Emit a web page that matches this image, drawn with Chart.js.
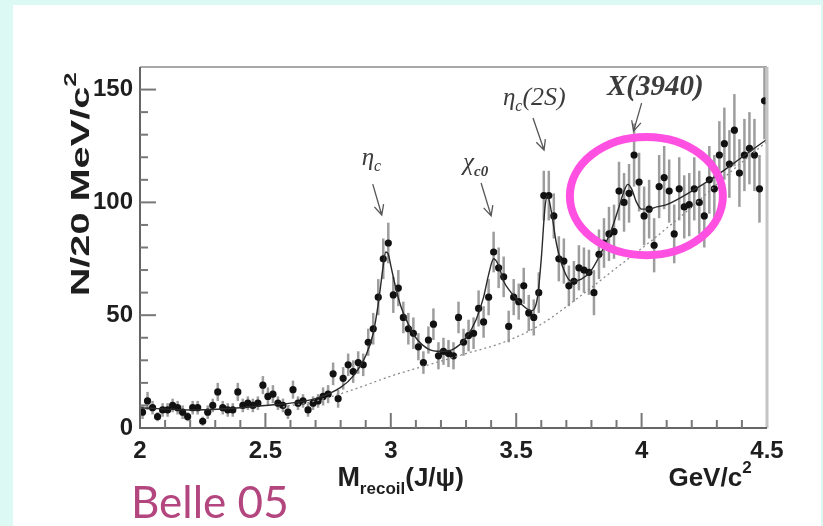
<!DOCTYPE html>
<html>
<head>
<meta charset="utf-8">
<title>Belle 05 - mass recoiling against J/psi</title>
<script src="https://cdn.jsdelivr.net/npm/chart.js@4.4.0/dist/chart.umd.min.js"></script>
<style>
  html, body { margin: 0; padding: 0; background: #dcfaf3; }
  #wrap { position: relative; width: 823px; height: 526px; overflow: hidden; }
  #panel { position: absolute; left: 13px; top: 5px; width: 808px; height: 521px; background: #fff; }
  #chart { position: absolute; left: 0; top: 0; }
</style>
</head>
<body>
<div id="wrap">
  <div id="panel"></div>
  <canvas id="chart" width="823" height="526"></canvas>
</div>
<script>
// histogram of M_recoil(J/psi), 20 MeV bins starting at 2.00 GeV
const binStart = 2.0;
const binWidth = 0.02;

const counts = [
  7, 12, 9, 5, 8, 8, 10, 9, 7, 5,
  9, 9, 3, 7, 10, 16, 9, 8, 8, 16,
  10, 11, 10, 11, 19, 14, 15, 11, 10, 7,
  17, 11, 12, 8, 11, 12, 14, 15, 24, 13,
  22, 28, 25, 29, 28, 38, 44, 58, 75, 82,
  59, 62, 49, 44, 42, 36, 29, 39, 46, 32,
  34, 33, 32, 49, 38, 41, 42, 53, 47, 58,
  78, 71, 67, 45, 58, 56, 63, 51, 49, 60,
  103, 103, 94, 75, 74, 63, 65, 71, 70, 69,
  60, 77, 82, 86, 87, 105, 100, 104, 121, 109,
  94, 97, 81, 107, 111, 105, 86, 106, 98, 99,
  106, 100, 94, 110, 106, 121, 126, 117, 132, 113,
  121, 124, 121, 106, 145
];

const countErrors = [
  3, 4, 3, 2, 3, 3, 3, 3, 3, 2,
  3, 3, 2, 3, 3, 4, 3, 3, 3, 4,
  3, 3, 3, 3, 4, 4, 4, 3, 3, 3,
  4, 3, 3, 3, 3, 3, 4, 4, 5, 4,
  5, 5, 5, 5, 5, 6, 7, 8, 9, 9,
  8, 8, 7, 7, 7, 6, 5, 6, 7, 6,
  6, 6, 6, 7, 6, 7, 7, 8, 7, 8,
  9, 9, 9, 7, 8, 8, 8, 8, 8, 9,
  11, 11, 10, 10, 10, 9, 9, 10, 10, 10,
  10, 11, 11, 12, 12, 13, 13, 13, 14, 13,
  13, 13, 12, 14, 14, 14, 13, 14, 14, 14,
  14, 14, 14, 15, 15, 15, 16, 15, 16, 15,
  16, 16, 16, 15, 17
];

// fitted curve (signal + background)
const fitMass = [2.0, 2.2, 2.4, 2.5, 2.6, 2.7, 2.8, 2.85, 2.9, 2.93, 2.95, 2.97, 2.98, 2.99, 3.0,
  3.02, 3.04, 3.07, 3.1, 3.15, 3.2, 3.25, 3.3, 3.34, 3.37, 3.39, 3.41, 3.43, 3.45, 3.48,
  3.52, 3.56, 3.585, 3.6, 3.615, 3.625, 3.64, 3.66, 3.69, 3.72, 3.76, 3.8, 3.84, 3.88, 3.91,
  3.93, 3.945, 3.96, 3.98, 4.0, 4.03, 4.06, 4.1, 4.2, 4.3, 4.4, 4.5];
const fitValues = [9, 8, 9, 10, 11, 13, 18, 23, 32, 42, 55, 72, 78, 77, 72,
  62, 54, 46, 40, 35, 34, 35, 40, 48, 58, 68, 75, 72, 65, 60,
  55, 52, 58, 75, 98, 103, 96, 82, 70, 65, 66, 70, 78, 88, 98,
  105, 108, 106, 100, 97, 97, 98, 99, 105, 112, 120, 128];

// background only (dotted)
const bkgMass = [2.55, 2.7, 2.85, 3.0, 3.15, 3.3, 3.45, 3.6, 3.75, 3.9, 4.05, 4.2, 4.35, 4.5];
const bkgValues = [9, 12, 17, 23, 28, 33, 38, 46, 58, 71, 84, 98, 113, 127];

const xTicks = [2, 2.5, 3, 3.5, 4, 4.5];
const yTicks = [0, 50, 100, 150];

const peakNames = ['η', 'χ', 'η', 'X(3940)'];
const peakSubs = ['c', 'c0', 'c', ''];
const peakTails = ['', '', '(2S)', ''];

const massBins = counts.map((_, i) => +(binStart + binWidth * (i + 0.5)).toFixed(3));

const SANS = '"Liberation Sans", Arial, sans-serif';
const SERIF = '"Liberation Serif", "Times New Roman", serif';

function drawParts(ctx, parts, x, y) {
    let cx = x;
    parts.forEach(p => {
        ctx.font = p.font;
        ctx.fillText(p.text, cx, y + (p.dy || 0));
        cx += ctx.measureText(p.text).width + (p.gap || 0);
    });
}

function drawArrow(ctx, x0, y0, x1, y1) {
    const a = Math.atan2(y1 - y0, x1 - x0);
    const h = 11;
    ctx.beginPath();
    ctx.moveTo(x0, y0);
    ctx.lineTo(x1, y1);
    ctx.moveTo(x1 - h * Math.cos(a - 0.45), y1 - h * Math.sin(a - 0.45));
    ctx.lineTo(x1, y1);
    ctx.lineTo(x1 - h * Math.cos(a + 0.45), y1 - h * Math.sin(a + 0.45));
    ctx.stroke();
}

const errorBars = {
    id: 'errorBars',
    beforeDatasetsDraw(chart) {
        const {ctx, chartArea, scales: {x, y}} = chart;
        ctx.save();
        ctx.beginPath();
        ctx.rect(chartArea.left, chartArea.top, chartArea.right - chartArea.left, chartArea.bottom - chartArea.top);
        ctx.clip();
        ctx.strokeStyle = 'rgba(60,60,60,0.5)';
        ctx.lineWidth = 2.5;
        counts.forEach((n, i) => {
            const px = x.getPixelForValue(massBins[i]);
            ctx.beginPath();
            ctx.moveTo(px, y.getPixelForValue(n - countErrors[i]));
            ctx.lineTo(px, y.getPixelForValue(n + countErrors[i]));
            ctx.stroke();
        });
        ctx.restore();
    }
};

const frameAndLabels = {
    id: 'frameAndLabels',
    afterDraw(chart) {
        const {ctx, chartArea: a, scales: {x, y}} = chart;
        ctx.save();

        // frame
        ctx.lineWidth = 2;
        ctx.strokeStyle = '#a8a8a8';
        ctx.beginPath();
        ctx.moveTo(a.left, a.top);
        ctx.lineTo(a.right, a.top);
        ctx.stroke();
        ctx.lineWidth = 3;
        ctx.strokeStyle = '#c4c4c4';
        ctx.beginPath();
        ctx.moveTo(a.right, a.top);
        ctx.lineTo(a.right, a.bottom);
        ctx.stroke();
        ctx.lineWidth = 2;
        ctx.strokeStyle = '#666';
        ctx.beginPath();
        ctx.moveTo(a.left, a.top);
        ctx.lineTo(a.left, a.bottom);
        ctx.lineTo(a.right, a.bottom);
        ctx.stroke();

        // inward ticks
        ctx.strokeStyle = '#777';
        ctx.lineWidth = 2;
        for (let k = 1; k < 25; k++) {
            const px = x.getPixelForValue(2 + k * 0.1);
            const len = k % 5 === 0 ? 15 : 8;
            ctx.beginPath();
            ctx.moveTo(px, a.bottom);
            ctx.lineTo(px, a.bottom - len);
            ctx.stroke();
        }
        for (let k = 1; k < 16; k++) {
            const py = y.getPixelForValue(k * 10);
            const len = k % 5 === 0 ? 16 : 8;
            ctx.beginPath();
            ctx.moveTo(a.left, py);
            ctx.lineTo(a.left + len, py);
            ctx.stroke();
        }

        // peak labels and arrows
        ctx.fillStyle = '#3c3c3c';
        ctx.strokeStyle = '#555';
        ctx.lineWidth = 1.3;
        ctx.textBaseline = 'alphabetic';
        const it = s => 'italic ' + s + 'px ' + SERIF;
        const bit = s => 'italic bold ' + s + 'px ' + SERIF;
        const labelPos = [[2.884, 116.6], [3.288, 114.4], [3.447, 143.2], [3.862, 147.6]];
        const arrows = [[2.928, 108.1, 2.964, 94.4], [3.36, 108.6, 3.40, 94.0],
                        [3.567, 137.4, 3.611, 123.2], [4.0, 144, 3.968, 131.6]];
        peakNames.forEach((name, i) => {
            const parts = [{text: name, font: i === 3 ? bit(29) : it(25)}];
            if (peakSubs[i]) parts.push({text: peakSubs[i], font: (i === 1 ? bit(15) : it(16)), dy: 6});
            if (peakTails[i]) parts.push({text: peakTails[i], font: it(26)});
            drawParts(ctx, parts, x.getPixelForValue(labelPos[i][0]), y.getPixelForValue(labelPos[i][1]));
            const r = arrows[i];
            drawArrow(ctx, x.getPixelForValue(r[0]), y.getPixelForValue(r[1]),
                      x.getPixelForValue(r[2]), y.getPixelForValue(r[3]));
        });

        // highlight ellipse round X(3940)
        const ex = x.getPixelForValue(4.019), ey = y.getPixelForValue(102.8);
        const erx = x.getPixelForValue(4.019 + 0.305) - ex;
        const ery = ey - y.getPixelForValue(102.8 + 26.2);
        ctx.strokeStyle = '#ff50e2';
        ctx.lineWidth = 8;
        ctx.beginPath();
        ctx.ellipse(ex, ey, erx, ery, 0, 0, Math.PI * 2);
        ctx.stroke();

        // axis titles
        ctx.fillStyle = '#1e1e1e';
        ctx.save();
        ctx.translate(a.left - 60, y.getPixelForValue(108));
        ctx.rotate(-Math.PI / 2);
        ctx.font = 'bold 26px ' + SANS;
        const t1 = 'N/20 MeV/c';
        const w1 = ctx.measureText(t1).width;
        ctx.font = 'bold 17px ' + SANS;
        const w2 = ctx.measureText('2').width;
        const total = w1 + w2;
        ctx.scale(224 / total, 1);
        ctx.font = 'bold 26px ' + SANS;
        ctx.fillText(t1, -total / 2, 9);
        ctx.font = 'bold 17px ' + SANS;
        ctx.fillText('2', -total / 2 + w1, -4);
        ctx.restore();

        const base = a.bottom + 58;
        drawParts(ctx, [
            {text: 'M', font: 'bold 27px ' + SANS},
            {text: 'recoil', font: 'bold 17px ' + SANS, dy: 8},
            {text: '(J/ψ)', font: 'bold 26px ' + SANS}
        ], x.getPixelForValue(2.787), base);
        drawParts(ctx, [
            {text: 'GeV/c', font: 'bold 26px ' + SANS},
            {text: '2', font: 'bold 17px ' + SANS, dy: -13}
        ], x.getPixelForValue(4.107), base);

        // slide caption
        ctx.fillStyle = '#b4467f';
        ctx.font = '44px Lato, "Noto Sans", sans-serif';
        ctx.fillText('Belle 05', 131, 518);
        ctx.restore();
    }
};

const ctx = document.getElementById('chart').getContext('2d');
const chart = new Chart(ctx, {
    type: 'scatter',
    data: {
        datasets: [
            {
                label: 'background',
                data: bkgMass.map((m, i) => ({x: m, y: bkgValues[i]})),
                showLine: true,
                borderColor: '#8a8a8a',
                borderWidth: 1.3,
                borderDash: [2, 3],
                pointRadius: 0,
                cubicInterpolationMode: 'monotone'
            },
            {
                label: 'fit',
                data: fitMass.map((m, i) => ({x: m, y: fitValues[i]})),
                showLine: true,
                borderColor: '#2a2a2a',
                borderWidth: 1.4,
                pointRadius: 0,
                cubicInterpolationMode: 'monotone'
            },
            {
                label: 'data',
                data: massBins.map((m, i) => ({x: m, y: counts[i]})),
                pointRadius: 3.6,
                pointBackgroundColor: '#111',
                pointBorderWidth: 0
            }
        ]
    },
    options: {
        responsive: false,
        animation: false,
        layout: {padding: {left: 0, top: 67, right: 56, bottom: 0}},
        plugins: {legend: {display: false}, tooltip: {enabled: false}},
        scales: {
            x: {
                type: 'linear',
                min: 2,
                max: 4.5,
                afterBuildTicks: s => { s.ticks = xTicks.map(v => ({value: v})); },
                afterFit: s => { s.height = 98; },
                grid: {display: false, drawTicks: false},
                border: {display: false},
                ticks: {
                    padding: 9,
                    color: '#1e1e1e',
                    font: {family: SANS, size: 24, weight: 'bold'},
                    maxRotation: 0,
                    callback: v => String(v)
                }
            },
            y: {
                min: 0,
                max: 160,
                afterBuildTicks: s => { s.ticks = yTicks.map(v => ({value: v})); },
                afterFit: s => { s.width = 140; },
                grid: {display: false, drawTicks: false},
                border: {display: false},
                ticks: {
                    padding: 7,
                    color: '#1e1e1e',
                    font: {family: SANS, size: 24, weight: 'bold'}
                }
            }
        }
    },
    plugins: [errorBars, frameAndLabels]
});
</script>
</body>
</html>
